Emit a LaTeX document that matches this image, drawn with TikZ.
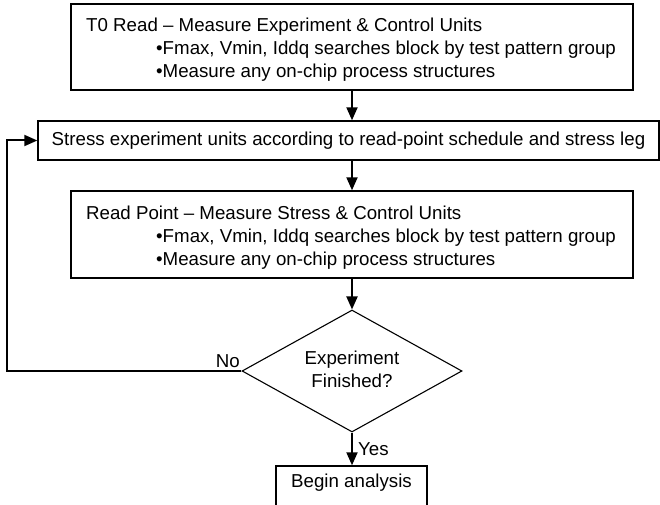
\documentclass[tikz,border=0pt]{standalone}
\usepackage{fontspec}
\setmainfont{Liberation Sans}
\usetikzlibrary{arrows.meta,shapes.geometric}
\begin{document}
\begin{tikzpicture}[x=1pt,y=-1pt,
  every node/.style={font=\fontsize{18.7}{23}\selectfont},
  boxnode/.style={draw,line width=1.4pt,inner sep=0pt},
  txt/.style={anchor=base west,inner sep=0pt},
  arr/.style={line width=2pt,-{Triangle[length=13pt,width=11pt]}},
  lbl/.style={inner sep=0pt}]
\clip (0,0) rectangle (660,505);
\fill[white] (0,0) rectangle (660,505);
% boxes
\node[boxnode,minimum width=562pt,minimum height=86pt] (t0) at (352,47) {};
\node[txt] (t0a) at (86,32) {T0 Read – Measure Experiment \& Control Units};
\node[txt] (t0b) at (156,55) {•Fmax, Vmin, Iddq searches block by test pattern group};
\node[txt] (t0c) at (156,78) {•Measure any on-chip process structures};
\node[boxnode,minimum width=621pt,minimum height=39pt] (stress) at (348.5,140.5)
  {Stress experiment units according to read-point schedule and stress leg};
\node[boxnode,minimum width=562pt,minimum height=87pt] (rp) at (352,234.5) {};
\node[txt] (rpa) at (86,219) {Read Point – Measure Stress \& Control Units};
\node[txt] (rpb) at (156,242) {•Fmax, Vmin, Iddq searches block by test pattern group};
\node[txt] (rpc) at (156,265) {•Measure any on-chip process structures};
\node[draw,diamond,line width=1.1pt,inner sep=0pt,minimum width=220pt,minimum height=122pt] (dia) at (352,371) {};
\node[lbl,align=center] (diat) at (352,369) {Experiment\\Finished?};
\node[boxnode,minimum width=151pt,minimum height=50pt] (ba) at (351.5,491) {};
\node[lbl,anchor=base] (bat) at (351.5,487) {Begin analysis};
% connectors
\draw[arr] (t0.south) -- (t0.south |- stress.north);
\draw[arr] (t0.south |- stress.south) -- (rp.north);
\draw[arr] (rp.south) -- (dia.north);
\draw[arr] (dia.south) -- (dia.south |- ba.north);
\coordinate (fb) at (7,371);
\draw[arr] (dia.west) -- (fb) |- (stress.west);
% labels
\node[lbl,anchor=base east] (no) at (240,367) {No};
\node[lbl,anchor=base west] (yes) at (358,455) {Yes};
\end{tikzpicture}
\end{document}
